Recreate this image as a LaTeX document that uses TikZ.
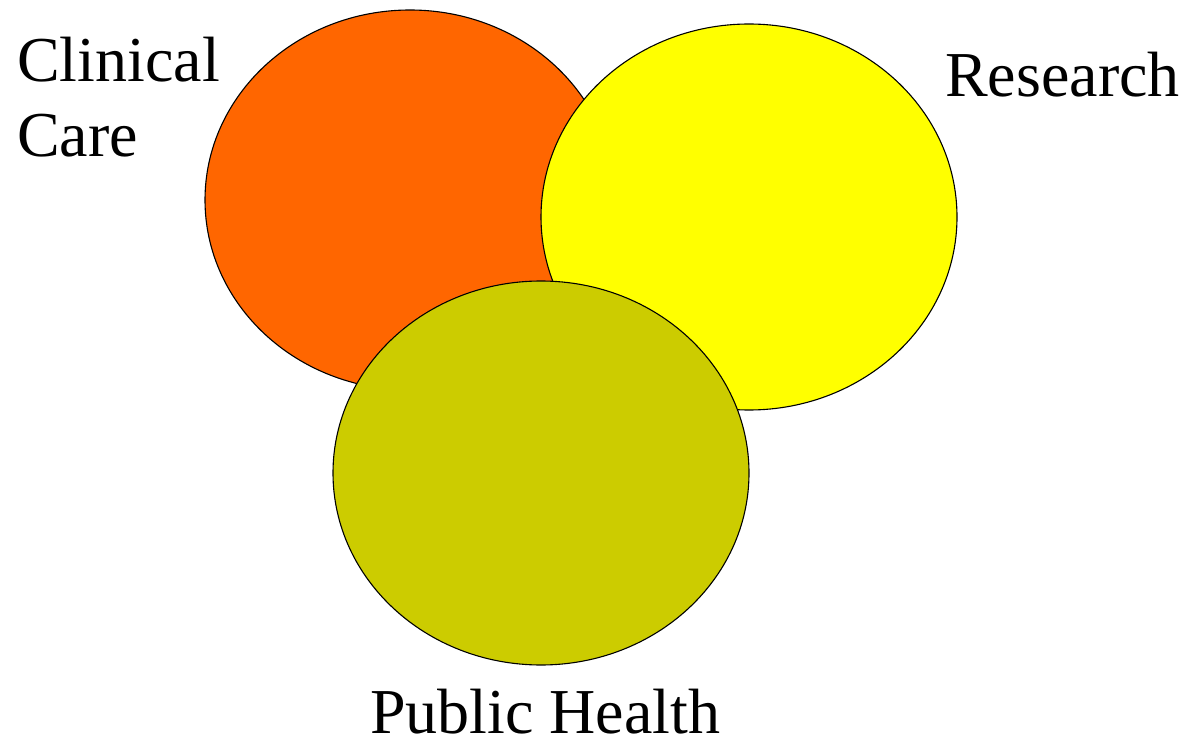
\documentclass[tikz,border=0pt]{standalone}
\usepackage{fontspec}
\setmainfont{Liberation Serif}
\definecolor{corange}{HTML}{FF6600}
\definecolor{cyellow}{HTML}{FFFF00}
\definecolor{colive}{HTML}{CCCC00}
\begin{document}
\begin{tikzpicture}[x=1pt,y=-1pt,
  blob/.style={draw=black,line width=1.1pt},
  lbl/.style={inner sep=0pt,anchor=base west,font=\fontsize{64}{75}\selectfont}]
\useasboundingbox (0,0) rectangle (1186,743);
\path[blob,fill=corange] (410,200) ellipse [x radius=205,y radius=190];
\path[blob,fill=cyellow] (749,217) ellipse [x radius=208,y radius=193];
\path[blob,fill=colive] (541,473) ellipse [x radius=208,y radius=192];
\node[lbl] (cl) at (17,82) {Clinical};
\node[lbl] (ca) at (17,157) {Care};
\node[lbl] (re) at (945,97) {Research};
\node[lbl] (ph) at (370,733) {Public Health};
\end{tikzpicture}
\end{document}
